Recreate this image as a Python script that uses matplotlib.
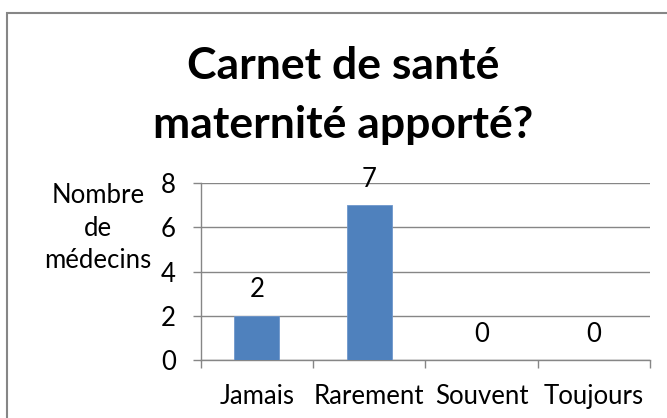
import matplotlib
matplotlib.use("Agg")
import matplotlib.pyplot as plt
from matplotlib.patches import Rectangle

categories = ["Jamais", "Rarement", "Souvent", "Toujours"]
values = [2, 7, 0, 0]
yticks = [0, 2, 4, 6, 8]
title_lines = ["Carnet de santé", "maternité apporté?"]
ylabel_lines = ["Nombre", "de", "médecins"]

plt.rcParams['font.family'] = ['Lato', 'DejaVu Sans']
W, H = 667, 418
fig = plt.figure(figsize=(W / 100, H / 100), dpi=100)
FS = 18.5

grey = '#868686'
fig.patches.append(Rectangle((7 / W, -0.2), 1.2, 1.2 - 12.5 / H, transform=fig.transFigure,
                             fill=False, edgecolor=grey, lw=1.5))

ax = fig.add_axes([200.7 / W, 1 - 360 / H, (650 - 200.7) / W, (360 - 183.3) / H])
x = list(range(len(categories)))
bars = ax.bar(x, values, width=0.4, color='#4F81BD', edgecolor='#6E97CC', lw=0.6, zorder=3)
for xi, v in zip(x, values):
    ax.annotate(str(v), (xi, v), xytext=(0, 13.3), textcoords='offset points',
                ha='center', va='baseline', fontsize=FS, color='black')

ax.set_xlim(-0.5, len(categories) - 0.5)
ax.set_ylim(0, 8)
ax.set_yticks(yticks)
ax.yaxis.grid(True, color=grey, lw=1)
ax.set_axisbelow(True)
ax.set_xticks(x)
ax.set_xticklabels(categories)
ax.set_xticks([i - 0.5 for i in range(len(categories) + 1)], minor=True)
ax.tick_params(axis='x', which='major', length=0, pad=17, labelsize=FS)
ax.tick_params(axis='x', which='minor', length=5.5, color=grey, width=1)
ax.tick_params(axis='y', length=6, color=grey, width=1, pad=12, labelsize=FS)
for s in ['top', 'right']:
    ax.spines[s].set_visible(False)
for s in ['left', 'bottom']:
    ax.spines[s].set_color(grey)
    ax.spines[s].set_linewidth(1)

for txt, yb in zip(ylabel_lines, [203, 236, 268]):
    fig.text(98 / W, 1 - yb / H, txt, ha='center', va='baseline', fontsize=FS)
for txt, yb in zip(title_lines, [79, 138]):
    fig.text(343 / W, 1 - yb / H, txt, ha='center', va='baseline', fontsize=32, fontweight='bold')

fig.savefig('out.png', dpi=100)
